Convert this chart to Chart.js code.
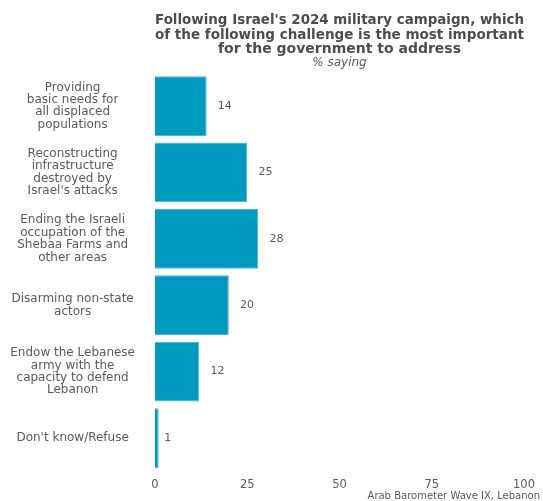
<!DOCTYPE html>
<html>
<head>
<meta charset="utf-8">
<script src="https://cdn.jsdelivr.net/npm/chart.js@4"></script>
<style>
  html, body { margin: 0; padding: 0; background: #fff; }
  #wrap { width: 543px; height: 501px; }
</style>
</head>
<body>
<div id="wrap"><canvas id="challenges" width="543" height="501"></canvas></div>
<script>
const categories = [
    ['Providing', 'basic needs for', 'all displaced', 'populations'],
    ['Reconstructing', 'infrastructure', 'destroyed by', "Israel's attacks"],
    ['Ending the Israeli', 'occupation of the', 'Shebaa Farms and', 'other areas'],
    ['Disarming non-state', 'actors'],
    ['Endow the Lebanese', 'army with the', 'capacity to defend', 'Lebanon'],
    ["Don't know/Refuse"]
];
const shares = [14, 25, 28, 20, 12, 1];
const xTicks = [0, 25, 50, 75, 100];

const FONT = 'DejaVu Sans';
const GREY = '#5a5a5a';

// value labels sit roughly one label-width past the end of each bar
const barValues = {
    id: 'barValues',
    afterDatasetsDraw(chart) {
        const ctx = chart.ctx;
        const meta = chart.getDatasetMeta(0);
        ctx.save();
        ctx.font = '11px "' + FONT + '"';
        ctx.fillStyle = GREY;
        ctx.textAlign = 'left';
        ctx.textBaseline = 'middle';
        meta.data.forEach((bar, i) => {
            const txt = String(shares[i]);
            const w = ctx.measureText(txt).width;
            ctx.fillText(txt, bar.x + w * 0.8, bar.y);
        });
        ctx.restore();
    }
};

const sourceNote = {
    id: 'sourceNote',
    afterDraw(chart) {
        const ctx = chart.ctx;
        ctx.save();
        ctx.font = '10px "' + FONT + '"';
        ctx.fillStyle = GREY;
        ctx.textAlign = 'right';
        ctx.textBaseline = 'middle';
        ctx.fillText('Arab Barometer Wave IX, Lebanon', chart.width - 3, 496);
        ctx.restore();
    }
};

const ctx = document.getElementById('challenges').getContext('2d');
new Chart(ctx, {
    type: 'bar',
    data: {
        labels: categories,
        datasets: [{
            data: shares,
            backgroundColor: '#0099c0',
            borderColor: '#4fb6d3',
            borderWidth: 1,
            categoryPercentage: 0.9,
            barPercentage: 1
        }]
    },
    options: {
        indexAxis: 'y',
        responsive: false,
        animation: false,
        layout: { padding: { left: 0, right: 19, top: 6, bottom: 2 } },
        plugins: {
            legend: { display: false },
            tooltip: { enabled: false },
            title: {
                display: true,
                fullSize: false,
                text: [
                    "Following Israel's 2024 military campaign, which",
                    'of the following challenge is the most important',
                    'for the government to address'
                ],
                color: '#4d4d4d',
                font: { family: FONT, size: 14, weight: 'bold', lineHeight: 1.05 },
                padding: { top: 7, bottom: 0 }
            },
            subtitle: {
                display: true,
                fullSize: false,
                text: '% saying',
                color: GREY,
                font: { family: FONT, size: 12, style: 'italic', lineHeight: 0.9 },
                padding: { top: 0, bottom: 5 }
            }
        },
        scales: {
            x: {
                min: 0,
                max: 100,
                afterBuildTicks(scale) {
                    scale.ticks = xTicks.map(v => ({ value: v }));
                },
                grid: { display: false, drawTicks: false },
                border: { display: false },
                ticks: {
                    color: GREY,
                    font: { family: FONT, size: 11.5 },
                    padding: 7
                }
            },
            y: {
                grid: { display: false, drawTicks: false },
                border: { display: false },
                afterFit(scale) {
                    // fixed label column; tall wrapped labels need no extra room above/below
                    scale.width = 155;
                    scale.paddingTop = 0;
                    scale.paddingBottom = 0;
                },
                ticks: {
                    color: GREY,
                    crossAlign: 'center',
                    padding: 20,
                    font: { family: FONT, size: 12, lineHeight: 1.03 }
                }
            }
        }
    },
    plugins: [barValues, sourceNote]
});
</script>
</body>
</html>
